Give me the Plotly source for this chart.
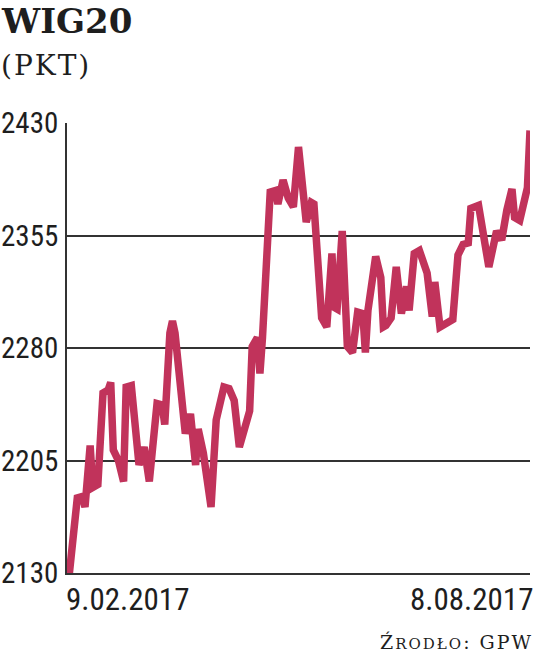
import pandas as pd
import plotly.graph_objects as go

# --- data ---
start_date = "2017-02-09"
day_offsets = [0, 1, 4, 6, 7, 9, 10, 12, 14, 16, 17, 18, 20, 22, 23, 25, 28, 30, 32, 33,
               35, 37, 38, 40, 41, 42, 45, 46, 48, 50, 51, 53, 56, 58, 61, 63, 65, 67, 70, 71,
               72, 74, 75, 76, 79, 81, 82, 84, 86, 88, 90, 92, 93, 95, 96, 99, 101, 103, 104, 105,
               106, 107, 109, 111, 113, 115, 116, 117, 120, 122, 123, 124, 126, 128, 130, 132, 133, 135, 137, 140,
               142, 143, 145, 148, 150, 152, 154, 156, 157, 160, 164, 167, 169, 171, 173, 174, 176, 179, 180]
wig20 = [2130, 2131, 2180, 2181, 2174, 2215, 2187, 2189, 2250, 2252, 2257, 2212, 2205, 2191, 2254, 2255, 2202, 2214, 2191, 2205,
         2243, 2242, 2229, 2290, 2298, 2290, 2237, 2223, 2236, 2202, 2226, 2210, 2174, 2232, 2254, 2253, 2245, 2214, 2232, 2238,
         2281, 2287, 2263, 2287, 2384, 2385, 2376, 2392, 2380, 2374, 2414, 2378, 2364, 2377, 2376, 2300, 2294, 2343, 2307, 2306,
         2343, 2358, 2281, 2277, 2304, 2303, 2277, 2305, 2341, 2327, 2294, 2295, 2300, 2334, 2303, 2321, 2305, 2343, 2345, 2330,
         2301, 2324, 2294, 2297, 2299, 2342, 2349, 2350, 2373, 2375, 2334, 2358, 2352, 2372, 2386, 2367, 2365, 2387, 2425]
y_ticks = [2130, 2205, 2280, 2355, 2430]
x_labels = ["9.02.2017", "8.08.2017"]
title = "WIG20"
unit = "(PKT)"
source_first, source_rest, source_tail = "Ź", "RODŁO", ": GPW"

dates = pd.Timestamp(start_date) + pd.to_timedelta(day_offsets, unit="D")

LINE = "#C1335B"
INK = "#1e1e1e"
NUM_FONT = "Roboto Condensed"
SERIF = "DejaVu Serif"

PH = 450.0  # plot height in px (for placing annotations)
PW = 463.0

fig = go.Figure()
fig.add_trace(go.Scatter(x=dates, y=wig20, mode="lines",
                         line=dict(color=LINE, width=7.5), hoverinfo="skip"))

fig.update_layout(
    width=536, height=655,
    margin=dict(l=67, r=6, t=123, b=82, autoexpand=False),
    paper_bgcolor="white", plot_bgcolor="white",
    showlegend=False,
    xaxis=dict(range=[dates[0], dates[-1]], showgrid=False, showticklabels=False,
               zeroline=False, showline=True, linecolor="#333333", linewidth=2, ticks="",
               automargin=False),
    yaxis=dict(range=[y_ticks[0], y_ticks[-1]], tickvals=y_ticks,
               showgrid=True, gridcolor="#333333", gridwidth=2,
               zeroline=False, showline=True, linecolor="#333333", linewidth=2,
               ticks="", showticklabels=False, automargin=False),
)

# y-axis value labels (placed at the tick values)
for v in y_ticks:
    fig.add_annotation(xref="paper", yref="y", x=-68 / PW, y=v, xanchor="left", yanchor="middle",
                       text=str(v), showarrow=False,
                       font=dict(family=NUM_FONT, size=29, color=INK))

fig.add_annotation(xref="paper", yref="paper", x=-3 / PW, y=-6 / PH, xanchor="left", yanchor="top",
                   text=x_labels[0], showarrow=False,
                   font=dict(family=NUM_FONT, size=31, color=INK))
fig.add_annotation(xref="paper", yref="paper", x=1 + 5 / PW, y=-6 / PH, xanchor="right", yanchor="top",
                   text=x_labels[1], showarrow=False,
                   font=dict(family=NUM_FONT, size=31, color=INK))

fig.add_annotation(xref="paper", yref="paper", x=-68 / PW, y=1 + 124 / PH, xanchor="left", yanchor="top",
                   text="<b>" + title + "</b>", showarrow=False,
                   font=dict(family=SERIF, size=34, color=INK))
fig.add_annotation(xref="paper", yref="paper", x=-68 / PW, y=1 + 76 / PH, xanchor="left", yanchor="top",
                   text="<span style='letter-spacing:2px'>" + unit + "</span>", showarrow=False,
                   font=dict(family=SERIF, size=28, color=INK))
fig.add_annotation(xref="paper", yref="paper", x=1 + 5 / PW, y=-82 / PH, xanchor="right", yanchor="bottom",
                   text="<span style='letter-spacing:2px'>" + source_first
                        + "<span style='font-size:15px'>" + source_rest + "</span>"
                        + source_tail + "</span>",
                   showarrow=False,
                   font=dict(family=SERIF, size=19, color=INK))

fig.write_html("out.html", config={"displayModeBar": False},
               post_script="document.body.style.margin='0';")
